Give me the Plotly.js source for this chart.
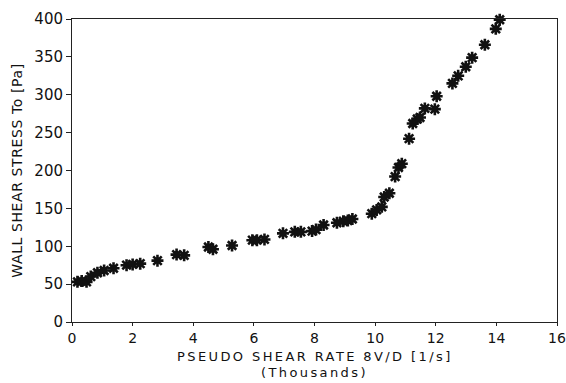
<!DOCTYPE html>
<html><head><meta charset="utf-8">
<script src="https://cdn.plot.ly/plotly-3.0.1.min.js"></script>
<style>html,body{margin:0;padding:0;background:#fff}#c{width:566px;height:383px}
.annotation-text{letter-spacing:2.4px}
.ytitle{letter-spacing:0.6px}
</style>
</head><body><div id="c"></div>
<script>
const shearRate = [0.18,0.32,0.48,0.62,0.84,1.06,1.37,1.8,2.0,2.25,2.82,3.45,3.7,4.5,4.65,5.28,5.95,6.1,6.35,6.96,7.35,7.55,7.92,8.05,8.3,8.74,8.95,9.1,9.25,9.89,10.05,10.22,10.3,10.47,10.66,10.77,10.88,11.12,11.24,11.39,11.48,11.64,11.97,12.03,12.55,12.74,12.99,13.2,13.62,13.98,14.11];
const wallStress = [53,54,53,60,65,68,71,75,76,77,81,89,88,99,96,101,108,108,109,117,119,119,120,122,128,131,133,134,136,143,148,152,165,170,192,204,209,242,262,268,270,282,281,298,315,325,337,349,366,387,399];
const xTicks = [0,2,4,6,8,10,12,14,16];
const yTicks = [0,50,100,150,200,250,300,350,400];
const xTitle = ['PSEUDO SHEAR RATE 8V/D [1/s]', '(Thousands)'];

const font = {family: 'DejaVu Sans, sans-serif', color: '#111', size: 14};
Plotly.newPlot('c', [{
  x: shearRate, y: wallStress, type: 'scatter', mode: 'markers',
  marker: {symbol: 'asterisk-open', size: 10, color: '#111', line: {color: '#111', width: 2.6}},
  cliponaxis: false
}], {
  width: 566, height: 383,
  margin: {l: 72, r: 9, t: 19, b: 61},
  paper_bgcolor: '#fff', plot_bgcolor: '#fff',
  showlegend: false,
  font: font,
  xaxis: {range: [0, 16], tickvals: xTicks, ticktext: xTicks.map(String), showgrid: false, zeroline: false,
    showline: true, linecolor: '#222', linewidth: 1, mirror: true, ticks: 'outside', ticklen: 3, tickcolor: '#222',
    tickfont: {size: 14}, ticklabeloverflow: 'allow'},
  yaxis: {range: [0, 400], tickvals: yTicks, ticktext: yTicks.map(String), showgrid: false, zeroline: false,
    showline: true, linecolor: '#222', linewidth: 1, mirror: true, ticks: 'outside', ticklen: 5, tickcolor: '#222',
    tickfont: {size: 15},
    title: {text: 'WALL SHEAR STRESS To [Pa]', font: {size: 14}, standoff: 8}},
  annotations: [
    {text: xTitle[0], xref: 'paper', yref: 'paper', x: 0.5, y: -0.115, xanchor: 'center', yanchor: 'middle', showarrow: false, font: {size: 13}, borderpad: 0},
    {text: xTitle[1], xref: 'paper', yref: 'paper', x: 0.5, y: -0.168, xanchor: 'center', yanchor: 'middle', showarrow: false, font: {size: 13}, borderpad: 0}
  ]
}, {staticPlot: true});
</script></body></html>
